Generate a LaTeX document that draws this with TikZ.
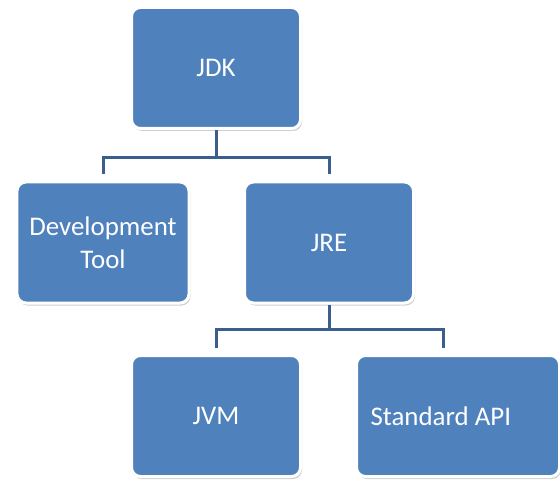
\documentclass[tikz,border=0pt]{standalone}
\usepackage{fontspec}
\setmainfont{Carlito}
\usetikzlibrary{shadows}

\definecolor{boxblue}{HTML}{4F81BD}
\definecolor{linkblue}{HTML}{3A5F8E}

\begin{document}
\begin{tikzpicture}[x=1bp,y=-1bp,
  box/.style={draw=white, line width=3bp, fill=boxblue, rounded corners=9bp,
    text=white, align=center, font=\fontsize{27}{33}\selectfont,
    minimum width=169bp, minimum height=121bp, inner sep=0pt,
    drop shadow={shadow xshift=1.5bp, shadow yshift=-2.5bp, opacity=0.3, fill=black!60}},
  link/.style={draw=linkblue, line width=3bp}]
\useasboundingbox[fill=white] (0,0) rectangle (560,482);

% top level
\node[box] (jdk) at (216,68) {JDK};

% second level
\node[box, minimum width=172bp] (dev) at (103,242.5) {Development\\Tool};
\node[box] (jre) at (329,242.5) {JRE};

% third level
\node[box] (jvm) at (216,416) {JVM};
\node[box, minimum width=203bp, text width=175bp, inner xsep=14bp, align=flush left] (api) at (458,416) {Standard API};

% links
\draw[link] (jdk.south) -- ++(0,28) coordinate (jdkfork);
\draw[link, shorten >=6bp] (jdkfork) -| (dev.north);
\draw[link, shorten >=6bp] (jdkfork) -| (jre.north);

\draw[link] (jre.south) -- ++(0,25) coordinate (jrefork);
\draw[link, shorten >=6bp] (jrefork) -| (jvm.north);
\draw[link, shorten >=6bp] (jrefork) -| ([xshift=-15bp]api.north);
\end{tikzpicture}
\end{document}
